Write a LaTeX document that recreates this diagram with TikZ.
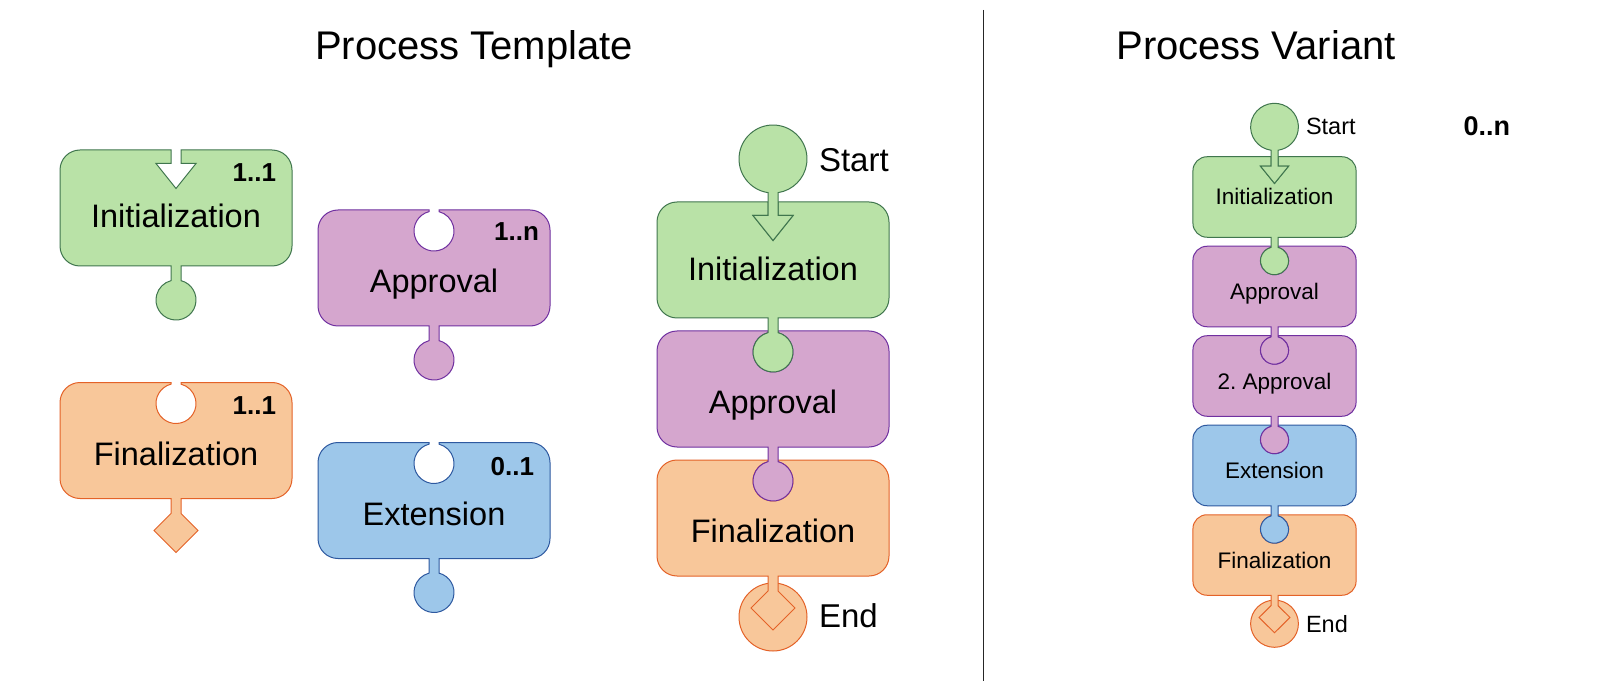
\documentclass[tikz,border=0pt]{standalone}
\usepackage{fontspec}
\setmainfont{Liberation Sans}
\definecolor{gfill}{RGB}{185,226,167}
\definecolor{gline}{RGB}{64,118,78}
\definecolor{pfill}{RGB}{213,166,206}
\definecolor{pline}{RGB}{112,48,160}
\definecolor{ofill}{RGB}{248,199,154}
\definecolor{oline}{RGB}{228,98,40}
\definecolor{bfill}{RGB}{157,199,234}
\definecolor{bline}{RGB}{46,89,160}
\newcommand\topHole{-- (-5,-56.365) arc[start angle=255.52, end angle=-75.52, radius=20] -- (5,-58)}
\newcommand\topArrow{-- (-5,-44.5) -- (-20,-44.5) -- (0,-19.5) -- (20,-44.5) -- (5,-44.5) -- (5,-58)}
\newcommand\botKnob{-- (5,72.635) arc[start angle=-75.52, end angle=255.52, radius=20] -- (-5,58)}
\newcommand\botDiamond{-- (5,73) -- (22,90) -- (0,112) -- (-22,90) -- (-5,73) -- (-5,58)}
\newcommand\piecepath[2]{(-5,-58) #1 -- (96,-58) arc[start angle=-90,end angle=0,radius=20] -- (116,38) arc[start angle=0,end angle=90,radius=20] -- (5,58) #2 -- (-96,58) arc[start angle=90,end angle=180,radius=20] -- (-116,-38) arc[start angle=180,end angle=270,radius=20] -- cycle}
\newcommand\startpath{(-5,-67.37) arc[start angle=98.46, end angle=441.54, radius=34] -- (5,-44.5) -- (20,-44.5) -- (0,-19.5) -- (-20,-44.5) -- (-5,-44.5) -- cycle}
\frenchspacing
\begin{document}
\begin{tikzpicture}[x=1pt,y=-1pt,
  every node/.style={inner sep=0pt, outer sep=0pt},
  gpiece/.style={fill=gfill, draw=gline, line width=1pt},
  ppiece/.style={fill=pfill, draw=pline, line width=1pt},
  opiece/.style={fill=ofill, draw=oline, line width=1pt},
  bpiece/.style={fill=bfill, draw=bline, line width=1pt},
  bigtxt/.style={font=\fontsize{32.5}{38}\selectfont, anchor=base},
  smalltxt/.style={font=\fontsize{22.5}{27}\selectfont, anchor=base},
  mult/.style={font=\fontsize{26}{30}\selectfont\bfseries, anchor=base east},
  titletxt/.style={font=\fontsize{40}{46}\selectfont, anchor=base},
  varscale/.style={xscale=0.703, yscale=0.694}]
\useasboundingbox (0,0) rectangle (1600,692);
\fill[white] (0,0) rectangle (1600,692);

% titles and divider
\node[titletxt] (ttemplate) at (474,60) {Process Template};
\node[titletxt] (tvariant) at (1256,60) {Process Variant};
\draw[line width=1pt, black!85] (983,10) -- (983,681);

% ---------- template pieces ----------
\begin{scope}[shift={(176,208)}]
  \draw[gpiece] \piecepath{\topArrow}{\botKnob};
\end{scope}
\node[bigtxt] (tinit) at (176,228) {Initialization};
\node[mult] (minit) at (276,182) {1..1};

\begin{scope}[shift={(434,268)}]
  \draw[ppiece] \piecepath{\topHole}{\botKnob};
\end{scope}
\node[bigtxt] (tappr) at (434,292.5) {Approval};
\node[mult] (mappr) at (539,241) {1..n};

\begin{scope}[shift={(176,440.5)}]
  \draw[opiece] \piecepath{\topHole}{\botDiamond};
\end{scope}
\node[bigtxt] (tfin) at (176,465) {Finalization};
\node[mult] (mfin) at (276,414.5) {1..1};

\begin{scope}[shift={(434,500.5)}]
  \draw[bpiece] \piecepath{\topHole}{\botKnob};
\end{scope}
\node[bigtxt] (text) at (434,525) {Extension};
\node[mult] (mext) at (534,475) {0..1};

% ---------- assembled template ----------
\begin{scope}[shift={(773,518)}]
  \draw[opiece] (0,99) circle[radius=34];
  \draw[opiece] \piecepath{\topHole}{\botDiamond};
\end{scope}
\begin{scope}[shift={(773,389)}]
  \draw[ppiece] \piecepath{\topHole}{\botKnob};
\end{scope}
\begin{scope}[shift={(773,260)}]
  \draw[gpiece] \piecepath{\topArrow}{\botKnob};
  \draw[gpiece] \startpath;
\end{scope}
\node[bigtxt] (ainit) at (773,281) {Initialization};
\node[bigtxt] (aappr) at (773,413.5) {Approval};
\node[bigtxt] (afin) at (773,542) {Finalization};
\node[font=\fontsize{33}{38}\selectfont, anchor=base west] (astart) at (819,172) {Start};
\node[font=\fontsize{33}{38}\selectfont, anchor=base west] (aend) at (819,627) {End};

% ---------- process variant ----------
\begin{scope}[shift={(1274.5,555)}, varscale]
  \draw[opiece] (0,99) circle[radius=34];
  \draw[opiece] \piecepath{\topHole}{\botDiamond};
\end{scope}
\begin{scope}[shift={(1274.5,465.5)}, varscale]
  \draw[bpiece] \piecepath{\topHole}{\botKnob};
\end{scope}
\begin{scope}[shift={(1274.5,376)}, varscale]
  \draw[ppiece] \piecepath{\topHole}{\botKnob};
\end{scope}
\begin{scope}[shift={(1274.5,286.5)}, varscale]
  \draw[ppiece] \piecepath{\topHole}{\botKnob};
\end{scope}
\begin{scope}[shift={(1274.5,197)}, varscale]
  \draw[gpiece] \piecepath{\topArrow}{\botKnob};
  \draw[gpiece] \startpath;
\end{scope}
\node[smalltxt] (vinit) at (1274.5,205) {Initialization};
\node[smalltxt] (vappr) at (1274.5,299.5) {Approval};
\node[smalltxt] (vappr2) at (1274.5,389) {2. Approval};
\node[smalltxt] (vext) at (1274.5,478.5) {Extension};
\node[smalltxt] (vfin) at (1274.5,568) {Finalization};
\node[font=\fontsize{23.5}{28}\selectfont, anchor=base west] (vstart) at (1306,135) {Start};
\node[font=\fontsize{23.5}{28}\selectfont, anchor=base west] (vend) at (1306,632) {End};
\node[font=\fontsize{27}{32}\selectfont\bfseries, anchor=base east] (mvar) at (1510,136) {0..n};
\end{tikzpicture}
\end{document}
